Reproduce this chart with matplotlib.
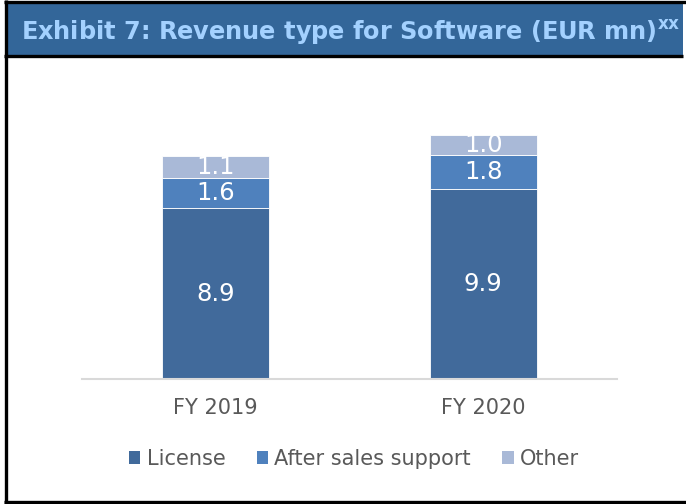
import matplotlib
matplotlib.use("Agg")
import matplotlib.pyplot as plt
from matplotlib.patches import Rectangle
from matplotlib.lines import Line2D
import numpy as np

categories = ["FY 2019", "FY 2020"]
license_vals = [8.9, 9.9]
after_sales = [1.6, 1.8]
other_vals = [1.1, 1.0]
series_names = ["License", "After sales support", "Other"]
colors = ["#416a9b", "#4f81bd", "#a9b9d7"]

W, H = 686, 504
fig = plt.figure(figsize=(W / 100, H / 100), dpi=100)
plt.rcParams['font.family'] = ['DejaVu Sans']

def fx(px):
    return px / W

def fy(py):
    return 1 - py / H

# title band
fig.patches.append(Rectangle((fx(5), fy(55)), fx(678), 52 / H, transform=fig.transFigure,
                             facecolor="#336699", edgecolor="none", zorder=0))
for (x0, y0, x1, y1) in [(4, 1.5, 686, 1.5), (4, 55.5, 683, 55.5), (5.5, 0, 5.5, 504), (4, 501.5, 686, 501.5)]:
    fig.lines.append(Line2D([fx(x0), fx(x1)], [fy(y0), fy(y1)], transform=fig.transFigure,
                            color="black", linewidth=2.4, solid_capstyle="butt"))
fig.text(fx(21), fy(32), "Exhibit 7: Revenue type for Software (EUR mn)$^{\\mathregular{xx}}$",
         color="#a3d1ff", fontsize=17.3, fontweight="bold", va="center", ha="left")

ax = fig.add_axes([fx(82), fy(379), fx(617 - 82), (379 - 72) / H])
x = np.arange(len(categories))
bw = 0.4
bottoms = np.zeros(len(categories))
for vals, col in zip([license_vals, after_sales, other_vals], colors):
    bars = ax.bar(x, vals, bw, bottom=bottoms, color=col, edgecolor="white", linewidth=0.6, zorder=2)
    for xi, v, b in zip(x, vals, bottoms):
        ax.text(xi, b + v / 2, f"{v:.1f}", ha="center", va="center", color="white", fontsize=17.5, zorder=3)
    bottoms = bottoms + np.array(vals)

ax.set_xlim(-0.5, 1.5)
ax.set_ylim(0, 16)
ax.set_yticks([])
ax.set_xticks(x)
ax.set_xticklabels(categories, fontsize=15, color="#595959")
ax.tick_params(axis="x", length=0, pad=14)
for s in ["top", "right", "left"]:
    ax.spines[s].set_visible(False)
ax.spines["bottom"].set_color("#d9d9d9")
ax.spines["bottom"].set_linewidth(1.5)

handles = [Rectangle((0, 0), 1, 1, facecolor=c, edgecolor="none") for c in colors]
fig.legend(handles, series_names, loc="center", bbox_to_anchor=(fx(354), fy(459)), ncol=3,
           frameon=False, fontsize=15, labelcolor="#595959", handlelength=0.55, handleheight=0.55,
           handletextpad=0.3, columnspacing=1.5)

fig.savefig("out.png", dpi=100)
